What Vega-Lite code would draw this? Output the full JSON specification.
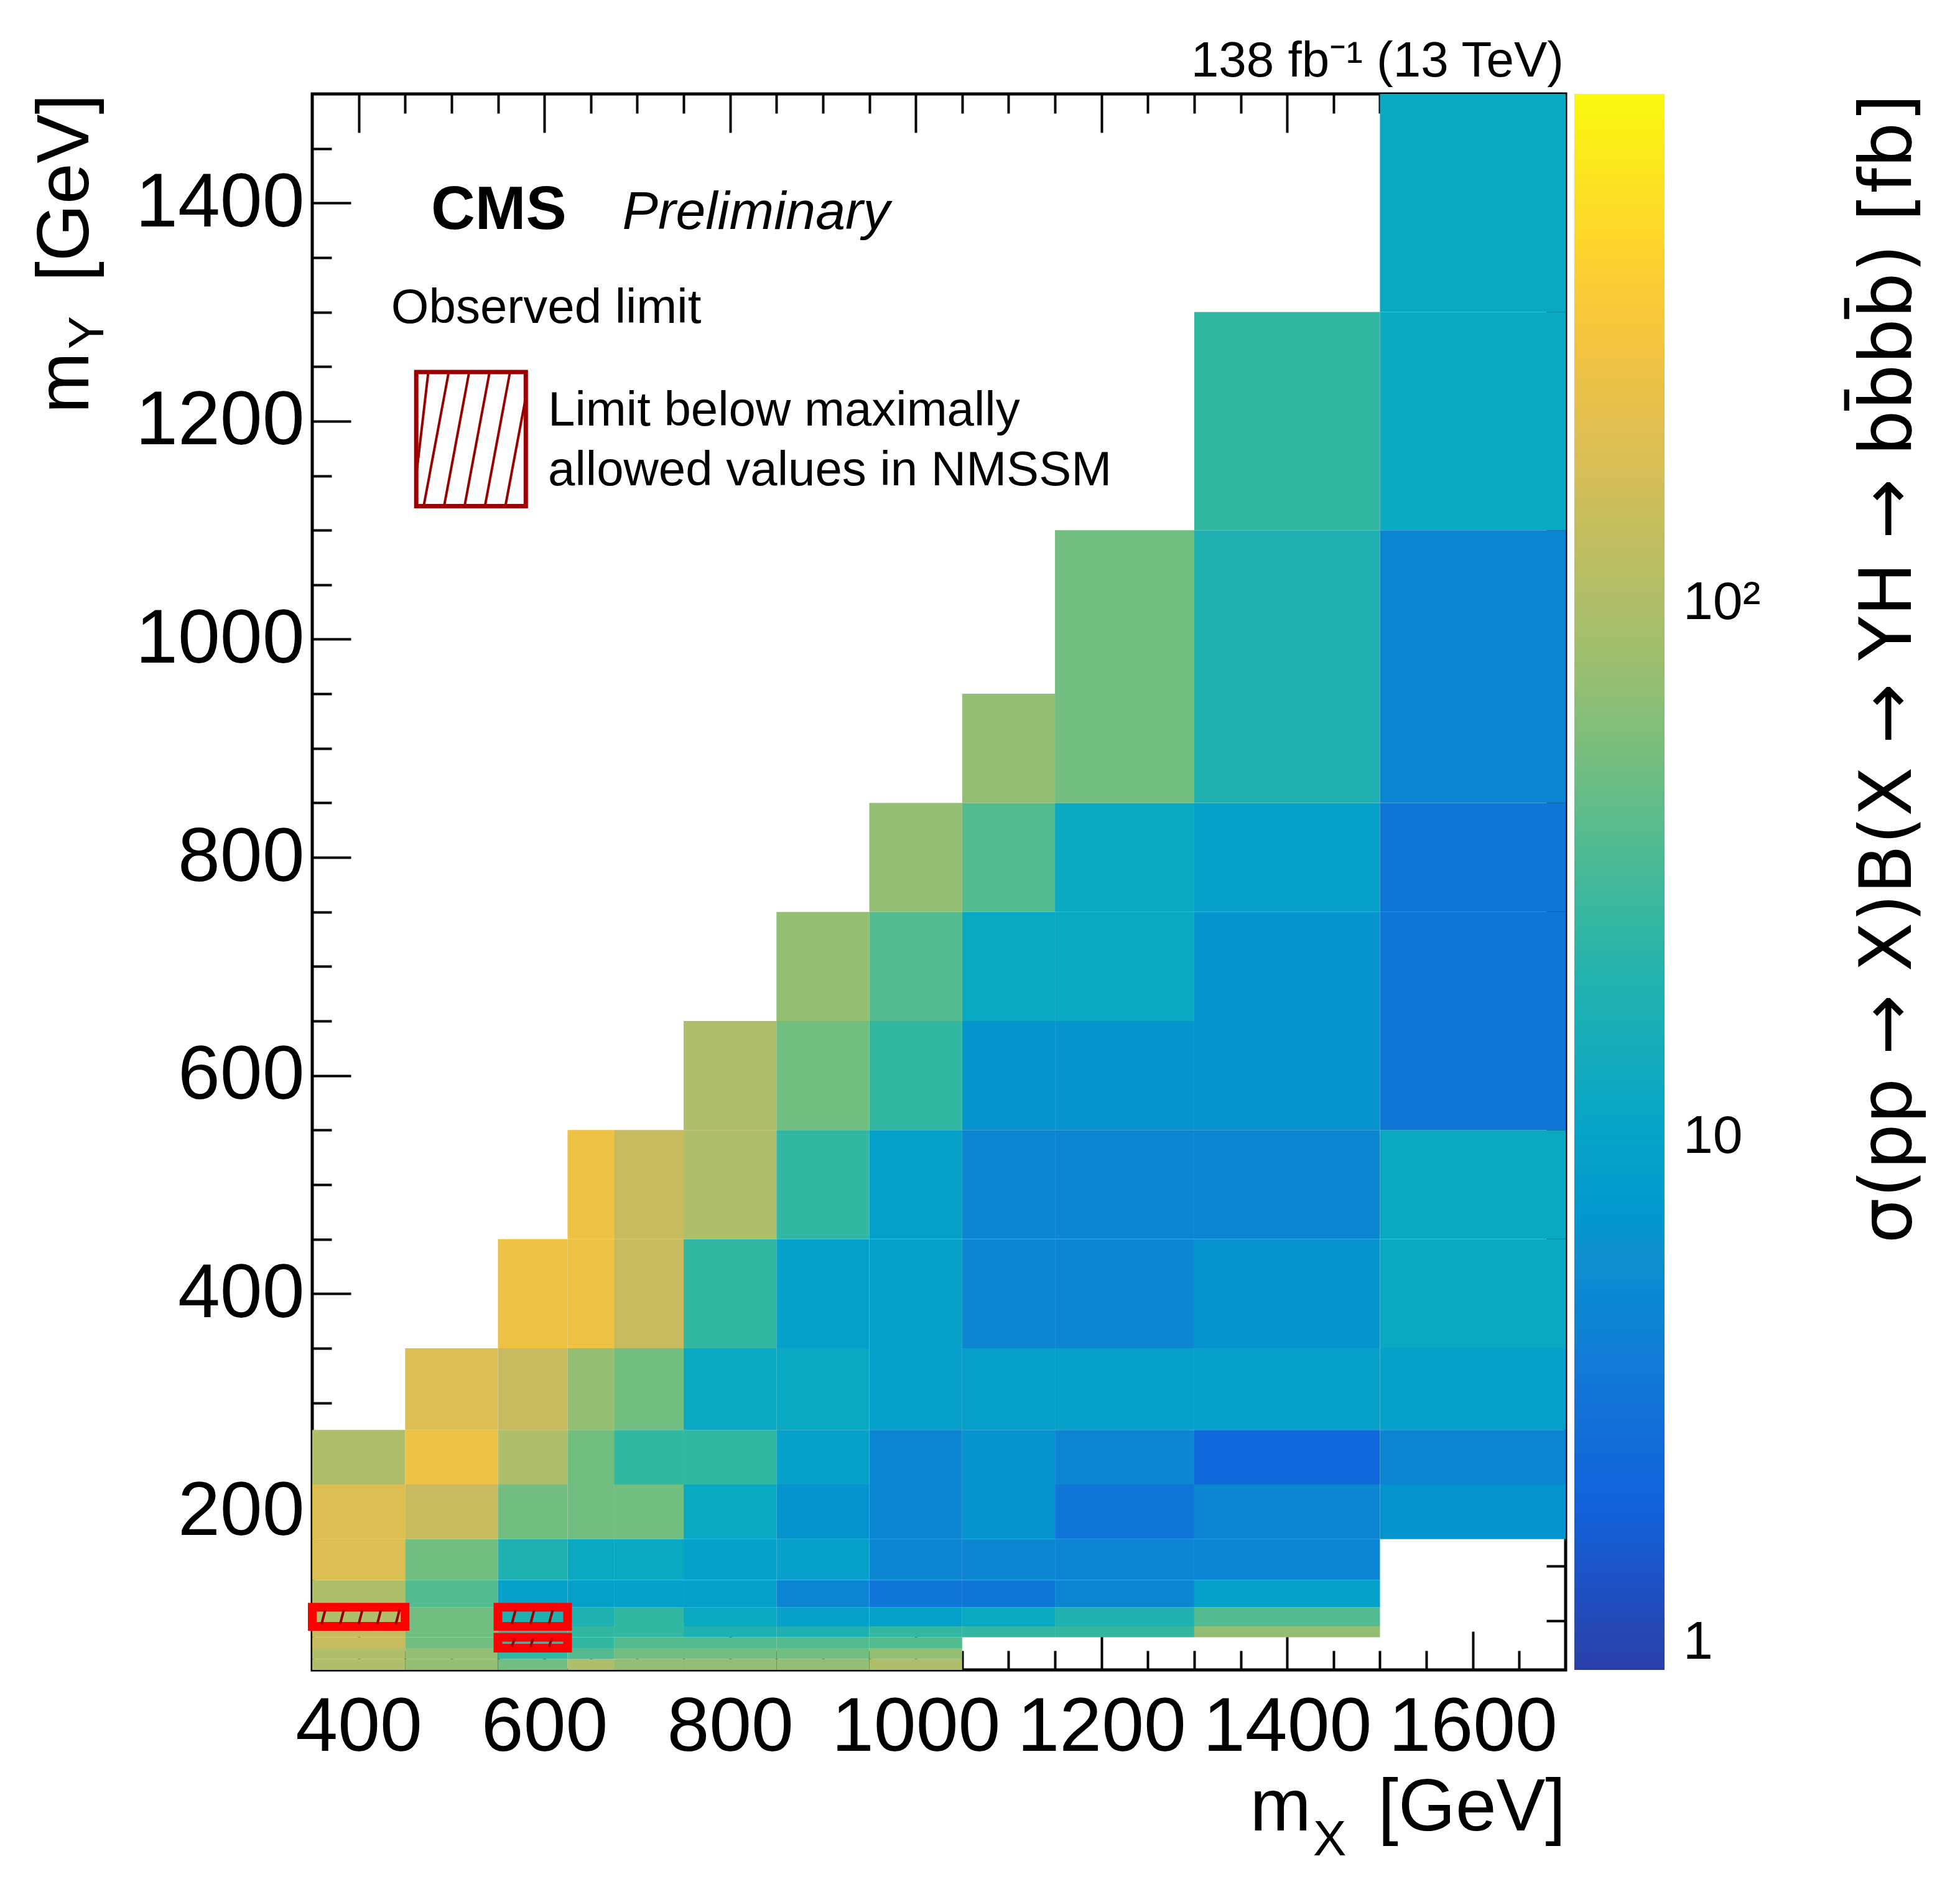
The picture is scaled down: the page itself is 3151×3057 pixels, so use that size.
{
  "$schema": "https://vega.github.io/schema/vega-lite/v6.json",
  "autosize": {"type": "none"},
  "width": 2015,
  "height": 2533,
  "padding": {"left": 502, "top": 151, "right": 634, "bottom": 373},
  "background": "white",
  "config": {
    "font": "Liberation Sans",
    "view": {"stroke": "black", "strokeWidth": 5},
    "axis": {"labelFont": "Liberation Sans", "labelColor": "black", "tickColor": "black", "tickWidth": 4, "domain": false, "grid": false, "labelOverlap": false, "labelFlush": false, "labelLimit": 0, "title": null}
  },
  "datasets": {
    "xb": [
      {"mx": 400, "x1": 350, "x2": 450}, {"mx": 500, "x1": 450, "x2": 550}, {"mx": 600, "x1": 550, "x2": 625},
      {"mx": 650, "x1": 625, "x2": 675}, {"mx": 700, "x1": 675, "x2": 750}, {"mx": 800, "x1": 750, "x2": 850},
      {"mx": 900, "x1": 850, "x2": 950}, {"mx": 1000, "x1": 950, "x2": 1050}, {"mx": 1100, "x1": 1050, "x2": 1150},
      {"mx": 1200, "x1": 1150, "x2": 1300}, {"mx": 1400, "x1": 1300, "x2": 1500}, {"mx": 1600, "x1": 1500, "x2": 1700}
    ],
    "yb": [
      {"my": 60, "y1": 55, "y2": 65}, {"my": 70, "y1": 65, "y2": 75}, {"my": 80, "y1": 75, "y2": 85},
      {"my": 90, "y1": 85, "y2": 95}, {"my": 100, "y1": 95, "y2": 112.5}, {"my": 125, "y1": 112.5, "y2": 137.5},
      {"my": 150, "y1": 137.5, "y2": 175}, {"my": 200, "y1": 175, "y2": 225}, {"my": 250, "y1": 225, "y2": 275},
      {"my": 300, "y1": 275, "y2": 350}, {"my": 400, "y1": 350, "y2": 450}, {"my": 500, "y1": 450, "y2": 550},
      {"my": 600, "y1": 550, "y2": 650}, {"my": 700, "y1": 650, "y2": 750}, {"my": 800, "y1": 750, "y2": 850},
      {"my": 900, "y1": 850, "y2": 950}, {"my": 1000, "y1": 950, "y2": 1100}, {"my": 1200, "y1": 1100, "y2": 1300},
      {"my": 1400, "y1": 1300, "y2": 1500}
    ],
    "cells": [
      {"mx": 400, "my": 60, "v": 99.5}, {"mx": 400, "my": 70, "v": 99.5}, {"mx": 400, "my": 80, "v": 140}, {"mx": 400, "my": 90, "v": 140},
      {"mx": 400, "my": 100, "v": 99.5}, {"mx": 400, "my": 125, "v": 99.5}, {"mx": 400, "my": 150, "v": 197}, {"mx": 400, "my": 200, "v": 197},
      {"mx": 400, "my": 250, "v": 99.5},
      {"mx": 500, "my": 60, "v": 70.8}, {"mx": 500, "my": 70, "v": 70.8}, {"mx": 500, "my": 80, "v": 50.4}, {"mx": 500, "my": 90, "v": 50.4},
      {"mx": 500, "my": 100, "v": 50.4}, {"mx": 500, "my": 125, "v": 35.8}, {"mx": 500, "my": 150, "v": 50.4}, {"mx": 500, "my": 200, "v": 140},
      {"mx": 500, "my": 250, "v": 277}, {"mx": 500, "my": 300, "v": 197},
      {"mx": 600, "my": 60, "v": 50.4}, {"mx": 600, "my": 70, "v": 25.5}, {"mx": 600, "my": 80, "v": 25.5}, {"mx": 600, "my": 90, "v": 25.5},
      {"mx": 600, "my": 100, "v": 18.1}, {"mx": 600, "my": 125, "v": 9.16}, {"mx": 600, "my": 150, "v": 18.1}, {"mx": 600, "my": 200, "v": 50.4},
      {"mx": 600, "my": 250, "v": 99.5}, {"mx": 600, "my": 300, "v": 140}, {"mx": 600, "my": 400, "v": 277},
      {"mx": 650, "my": 60, "v": 99.5}, {"mx": 650, "my": 70, "v": 35.8}, {"mx": 650, "my": 80, "v": 25.5}, {"mx": 650, "my": 90, "v": 25.5},
      {"mx": 650, "my": 100, "v": 18.1}, {"mx": 650, "my": 125, "v": 9.16}, {"mx": 650, "my": 150, "v": 12.9}, {"mx": 650, "my": 200, "v": 50.4},
      {"mx": 650, "my": 250, "v": 50.4}, {"mx": 650, "my": 300, "v": 70.8}, {"mx": 650, "my": 400, "v": 277}, {"mx": 650, "my": 500, "v": 277},
      {"mx": 700, "my": 60, "v": 70.8}, {"mx": 700, "my": 70, "v": 50.4}, {"mx": 700, "my": 80, "v": 35.8}, {"mx": 700, "my": 90, "v": 25.5},
      {"mx": 700, "my": 100, "v": 25.5}, {"mx": 700, "my": 125, "v": 9.16}, {"mx": 700, "my": 150, "v": 12.9}, {"mx": 700, "my": 200, "v": 50.4},
      {"mx": 700, "my": 250, "v": 25.5}, {"mx": 700, "my": 300, "v": 50.4}, {"mx": 700, "my": 400, "v": 140}, {"mx": 700, "my": 500, "v": 140},
      {"mx": 800, "my": 60, "v": 70.8}, {"mx": 800, "my": 70, "v": 50.4}, {"mx": 800, "my": 80, "v": 35.8}, {"mx": 800, "my": 90, "v": 18.1},
      {"mx": 800, "my": 100, "v": 12.9}, {"mx": 800, "my": 125, "v": 9.16}, {"mx": 800, "my": 150, "v": 9.16}, {"mx": 800, "my": 200, "v": 12.9},
      {"mx": 800, "my": 250, "v": 25.5}, {"mx": 800, "my": 300, "v": 12.9}, {"mx": 800, "my": 400, "v": 25.5}, {"mx": 800, "my": 500, "v": 99.5},
      {"mx": 800, "my": 600, "v": 99.5},
      {"mx": 900, "my": 60, "v": 70.8}, {"mx": 900, "my": 70, "v": 50.4}, {"mx": 900, "my": 80, "v": 35.8}, {"mx": 900, "my": 90, "v": 18.1},
      {"mx": 900, "my": 100, "v": 9.16}, {"mx": 900, "my": 125, "v": 4.63}, {"mx": 900, "my": 150, "v": 9.16}, {"mx": 900, "my": 200, "v": 6.52},
      {"mx": 900, "my": 250, "v": 9.16}, {"mx": 900, "my": 300, "v": 12.9}, {"mx": 900, "my": 400, "v": 9.16}, {"mx": 900, "my": 500, "v": 25.5},
      {"mx": 900, "my": 600, "v": 50.4}, {"mx": 900, "my": 700, "v": 70.8},
      {"mx": 1000, "my": 60, "v": 99.5}, {"mx": 1000, "my": 70, "v": 70.8}, {"mx": 1000, "my": 80, "v": 35.8}, {"mx": 1000, "my": 90, "v": 25.5},
      {"mx": 1000, "my": 100, "v": 9.16}, {"mx": 1000, "my": 125, "v": 3.3}, {"mx": 1000, "my": 150, "v": 4.63}, {"mx": 1000, "my": 200, "v": 4.63},
      {"mx": 1000, "my": 250, "v": 4.63}, {"mx": 1000, "my": 300, "v": 9.16}, {"mx": 1000, "my": 400, "v": 9.16}, {"mx": 1000, "my": 500, "v": 9.16},
      {"mx": 1000, "my": 600, "v": 25.5}, {"mx": 1000, "my": 700, "v": 35.8}, {"mx": 1000, "my": 800, "v": 70.8},
      {"mx": 1100, "my": 90, "v": 25.5}, {"mx": 1100, "my": 100, "v": 12.9}, {"mx": 1100, "my": 125, "v": 3.3}, {"mx": 1100, "my": 150, "v": 4.63},
      {"mx": 1100, "my": 200, "v": 6.52}, {"mx": 1100, "my": 250, "v": 6.52}, {"mx": 1100, "my": 300, "v": 9.16}, {"mx": 1100, "my": 400, "v": 4.63},
      {"mx": 1100, "my": 500, "v": 4.63}, {"mx": 1100, "my": 600, "v": 6.52}, {"mx": 1100, "my": 700, "v": 12.9}, {"mx": 1100, "my": 800, "v": 35.8},
      {"mx": 1100, "my": 900, "v": 70.8},
      {"mx": 1200, "my": 90, "v": 25.5}, {"mx": 1200, "my": 100, "v": 18.1}, {"mx": 1200, "my": 125, "v": 4.63}, {"mx": 1200, "my": 150, "v": 4.63},
      {"mx": 1200, "my": 200, "v": 3.3}, {"mx": 1200, "my": 250, "v": 4.63}, {"mx": 1200, "my": 300, "v": 9.16}, {"mx": 1200, "my": 400, "v": 4.63},
      {"mx": 1200, "my": 500, "v": 4.63}, {"mx": 1200, "my": 600, "v": 6.52}, {"mx": 1200, "my": 700, "v": 12.9}, {"mx": 1200, "my": 800, "v": 12.9},
      {"mx": 1200, "my": 900, "v": 50.4}, {"mx": 1200, "my": 1000, "v": 50.4},
      {"mx": 1400, "my": 90, "v": 70.8}, {"mx": 1400, "my": 100, "v": 35.8}, {"mx": 1400, "my": 125, "v": 9.16}, {"mx": 1400, "my": 150, "v": 4.63},
      {"mx": 1400, "my": 200, "v": 4.63}, {"mx": 1400, "my": 250, "v": 2.34}, {"mx": 1400, "my": 300, "v": 9.16}, {"mx": 1400, "my": 400, "v": 6.52},
      {"mx": 1400, "my": 500, "v": 4.63}, {"mx": 1400, "my": 600, "v": 6.52}, {"mx": 1400, "my": 700, "v": 6.52}, {"mx": 1400, "my": 800, "v": 9.16},
      {"mx": 1400, "my": 900, "v": 18.1}, {"mx": 1400, "my": 1000, "v": 18.1}, {"mx": 1400, "my": 1200, "v": 25.5},
      {"mx": 1600, "my": 200, "v": 6.52}, {"mx": 1600, "my": 250, "v": 4.63}, {"mx": 1600, "my": 300, "v": 9.16}, {"mx": 1600, "my": 400, "v": 12.9},
      {"mx": 1600, "my": 500, "v": 12.9}, {"mx": 1600, "my": 600, "v": 3.3}, {"mx": 1600, "my": 700, "v": 3.3}, {"mx": 1600, "my": 800, "v": 3.3},
      {"mx": 1600, "my": 900, "v": 4.63}, {"mx": 1600, "my": 1000, "v": 4.63}, {"mx": 1600, "my": 1200, "v": 12.9}, {"mx": 1600, "my": 1400, "v": 12.9}
    ],
    "hatched": [
      {"mx": 400, "my": 100}, {"mx": 600, "my": 100}, {"mx": 600, "my": 80}
    ]
  },
  "resolve": {"axis": {"x": "independent", "y": "independent"}},
  "layer": [
    {
      "data": {"name": "cells"},
      "transform": [
        {"lookup": "mx", "from": {"data": {"name": "xb"}, "key": "mx", "fields": ["x1", "x2"]}},
        {"lookup": "my", "from": {"data": {"name": "yb"}, "key": "my", "fields": ["y1", "y2"]}}
      ],
      "mark": {"type": "rect", "strokeWidth": 0},
      "encoding": {
        "x": {"field": "x1", "type": "quantitative", "scale": {"domain": [350, 1700], "nice": false, "zero": false},
          "axis": {"orient": "bottom", "values": [400,450,500,550,600,650,700,750,800,850,900,950,1000,1050,1100,1150,1200,1250,1300,1350,1400,1450,1500,1550,1600,1650],
            "labelExpr": "datum.value % 200 == 0 ? datum.label : ''", "format": "d", "labelFontSize": 122, "labelPadding": 95,
            "tickSize": {"condition": {"test": "datum.value % 200 == 0", "value": -62}, "value": -31}}},
        "x2": {"field": "x2"},
        "y": {"field": "y1", "type": "quantitative", "scale": {"domain": [55, 1500], "nice": false, "zero": false},
          "axis": {"orient": "left", "values": [100,150,200,250,300,350,400,450,500,550,600,650,700,750,800,850,900,950,1000,1050,1100,1150,1200,1250,1300,1350,1400,1450],
            "labelExpr": "datum.value % 200 == 0 ? datum.label : ''", "format": "d", "labelFontSize": 122, "labelPadding": 75,
            "tickSize": {"condition": {"test": "datum.value % 200 == 0", "value": -62}, "value": -31}}},
        "y2": {"field": "y2"},
        "color": {"field": "v", "type": "quantitative",
          "scale": {"type": "log", "domain": [1, 900], "range": ["#2a3fa8","#1450d0","#1262dc","#1370d8","#1480d4","#1090d0","#099fcb","#0da8c5","#1fb0b3","#2fb7a3","#52bb90","#74bd7f","#98be70","#b3be67","#cdb95d","#e2bf4f","#f3c33e","#fdd12e","#fbe41f","#f9f90e"]},
          "legend": {"orient": "none", "legendX": 2029, "legendY": 0, "direction": "vertical", "gradientLength": 2533, "gradientThickness": 145,
            "gradientStrokeWidth": 0, "title": null, "values": [1, 10, 100], "labelExpr": "datum.value == 100 ? '10²' : datum.value == 10 ? '10' : '1'",
            "labelFontSize": 86, "labelFont": "Liberation Sans", "labelColor": "black", "labelOffset": 30, "labelOverlap": false}}
      }
    },
    {
      "data": {"name": "hatched"},
      "transform": [
        {"lookup": "mx", "from": {"data": {"name": "xb"}, "key": "mx", "fields": ["x1", "x2"]}},
        {"lookup": "my", "from": {"data": {"name": "yb"}, "key": "my", "fields": ["y1", "y2"]}}
      ],
      "mark": {"type": "rect", "fillOpacity": 0, "stroke": "#ff0000", "strokeWidth": 14},
      "encoding": {
        "x": {"field": "x1", "type": "quantitative",
          "axis": {"orient": "top", "values": [400,450,500,550,600,650,700,750,800,850,900,950,1000,1050,1100,1150,1200,1250,1300,1350,1400,1450,1500,1550,1600,1650],
            "labels": false, "tickSize": {"condition": {"test": "datum.value % 200 == 0", "value": -62}, "value": -31}}},
        "x2": {"field": "x2"},
        "y": {"field": "y1", "type": "quantitative",
          "axis": {"orient": "right", "values": [100,150,200,250,300,350,400,450,500,550,600,650,700,750,800,850,900,950,1000,1050,1100,1150,1200,1250,1300,1350,1400,1450],
            "labels": false, "tickSize": {"condition": {"test": "datum.value % 200 == 0", "value": -62}, "value": -31}}},
        "y2": {"field": "y2"}
      }
    },
    {
      "data": {"values": [{"x1": 462, "x2": 580, "y1": 1122, "y2": 1245}]},
      "mark": {"type": "rect", "fillOpacity": 0, "stroke": "#990000", "strokeWidth": 7},
      "encoding": {
        "x": {"field": "x1", "type": "quantitative", "axis": null}, "x2": {"field": "x2"},
        "y": {"field": "y1", "type": "quantitative", "axis": null}, "y2": {"field": "y2"}
      }
    },
    {
      "data": {"values": [
        {"x1": 462, "y1": 1150, "x2": 475, "y2": 1245}, {"x1": 470, "y1": 1122, "x2": 497, "y2": 1245},
        {"x1": 492, "y1": 1122, "x2": 519, "y2": 1245}, {"x1": 514, "y1": 1122, "x2": 541, "y2": 1245},
        {"x1": 536, "y1": 1122, "x2": 563, "y2": 1245}, {"x1": 558, "y1": 1122, "x2": 580, "y2": 1222},
        {"x1": 360, "y1": 97, "x2": 364, "y2": 110}, {"x1": 380, "y1": 97, "x2": 384, "y2": 110}, {"x1": 400, "y1": 97, "x2": 404, "y2": 110},
        {"x1": 420, "y1": 97, "x2": 424, "y2": 110}, {"x1": 440, "y1": 97, "x2": 444, "y2": 110},
        {"x1": 565, "y1": 97, "x2": 569, "y2": 110}, {"x1": 585, "y1": 97, "x2": 589, "y2": 110}, {"x1": 605, "y1": 97, "x2": 609, "y2": 110},
        {"x1": 565, "y1": 76, "x2": 568, "y2": 84}, {"x1": 585, "y1": 76, "x2": 588, "y2": 84}, {"x1": 605, "y1": 76, "x2": 608, "y2": 84}
      ]},
      "mark": {"type": "rule", "stroke": "#990000", "strokeWidth": 4},
      "encoding": {
        "x": {"field": "x1", "type": "quantitative", "axis": null}, "x2": {"field": "x2"},
        "y": {"field": "y1", "type": "quantitative", "axis": null}, "y2": {"field": "y2"}
      }
    },
    {
      "data": {"values": [{"x": 478, "y": 1376, "t": "CMS"}]},
      "mark": {"type": "text", "font": "Liberation Sans", "fontWeight": "bold", "fontSize": 98, "align": "left", "baseline": "alphabetic", "color": "black"},
      "encoding": {"x": {"field": "x", "type": "quantitative", "axis": null}, "y": {"field": "y", "type": "quantitative", "axis": null}, "text": {"field": "t"}}
    },
    {
      "data": {"values": [{"x": 684, "y": 1376, "t": "Preliminary"}]},
      "mark": {"type": "text", "font": "Liberation Sans", "fontStyle": "italic", "fontSize": 86, "align": "left", "baseline": "alphabetic", "color": "black"},
      "encoding": {"x": {"field": "x", "type": "quantitative", "axis": null}, "y": {"field": "y", "type": "quantitative", "axis": null}, "text": {"field": "t"}}
    },
    {
      "data": {"values": [
        {"x": 435, "y": 1290, "t": "Observed limit"},
        {"x": 604, "y": 1196, "t": "Limit below maximally"},
        {"x": 604, "y": 1141, "t": "allowed values in NMSSM"}
      ]},
      "mark": {"type": "text", "font": "Liberation Sans", "fontSize": 78, "align": "left", "baseline": "alphabetic", "color": "black"},
      "encoding": {"x": {"field": "x", "type": "quantitative", "axis": null}, "y": {"field": "y", "type": "quantitative", "axis": null}, "text": {"field": "t"}}
    },
    {
      "data": {"values": [{"x": 1698, "y": 1516, "t": "138 fb⁻¹ (13 TeV)"}]},
      "mark": {"type": "text", "font": "Liberation Sans", "fontSize": 80, "align": "right", "baseline": "alphabetic", "color": "black"},
      "encoding": {"x": {"field": "x", "type": "quantitative", "axis": null}, "y": {"field": "y", "type": "quantitative", "axis": null}, "text": {"field": "t"}}
    },
    {
      "data": {"values": [{"x": 1360, "y": -92, "t": "m"}]},
      "mark": {"type": "text", "font": "Liberation Sans", "fontSize": 118, "align": "left", "baseline": "alphabetic", "color": "black"},
      "encoding": {"x": {"field": "x", "type": "quantitative", "axis": null}, "y": {"field": "y", "type": "quantitative", "axis": null}, "text": {"field": "t"}}
    },
    {
      "data": {"values": [{"x": 1700, "y": -92, "t": "[GeV]"}]},
      "mark": {"type": "text", "font": "Liberation Sans", "fontSize": 118, "align": "right", "baseline": "alphabetic", "color": "black"},
      "encoding": {"x": {"field": "x", "type": "quantitative", "axis": null}, "y": {"field": "y", "type": "quantitative", "axis": null}, "text": {"field": "t"}}
    },
    {
      "data": {"values": [{"x": 1428, "y": -115, "t": "X"}]},
      "mark": {"type": "text", "font": "Liberation Sans", "fontSize": 80, "align": "left", "baseline": "alphabetic", "color": "black"},
      "encoding": {"x": {"field": "x", "type": "quantitative", "axis": null}, "y": {"field": "y", "type": "quantitative", "axis": null}, "text": {"field": "t"}}
    },
    {
      "data": {"values": [{"x": 109, "y": 1207, "t": "m"}]},
      "mark": {"type": "text", "font": "Liberation Sans", "fontSize": 118, "angle": 270, "align": "left", "baseline": "alphabetic", "color": "black"},
      "encoding": {"x": {"field": "x", "type": "quantitative", "axis": null}, "y": {"field": "y", "type": "quantitative", "axis": null}, "text": {"field": "t"}}
    },
    {
      "data": {"values": [{"x": 109, "y": 1500, "t": "[GeV]"}]},
      "mark": {"type": "text", "font": "Liberation Sans", "fontSize": 118, "angle": 270, "align": "right", "baseline": "alphabetic", "color": "black"},
      "encoding": {"x": {"field": "x", "type": "quantitative", "axis": null}, "y": {"field": "y", "type": "quantitative", "axis": null}, "text": {"field": "t"}}
    },
    {
      "data": {"values": [{"x": 125, "y": 1266, "t": "Y"}]},
      "mark": {"type": "text", "font": "Liberation Sans", "fontSize": 80, "angle": 270, "align": "left", "baseline": "alphabetic", "color": "black"},
      "encoding": {"x": {"field": "x", "type": "quantitative", "axis": null}, "y": {"field": "y", "type": "quantitative", "axis": null}, "text": {"field": "t"}}
    },
    {
      "data": {"values": [{"x": 2072, "y": 1500, "t": "σ(pp → X)B(X → YH → bb̄bb̄) [fb]"}]},
      "mark": {"type": "text", "font": "DejaVu Sans", "fontSize": 116, "angle": 270, "align": "right", "baseline": "alphabetic", "color": "black"},
      "encoding": {"x": {"field": "x", "type": "quantitative", "axis": null}, "y": {"field": "y", "type": "quantitative", "axis": null}, "text": {"field": "t"}}
    }
  ]
}
